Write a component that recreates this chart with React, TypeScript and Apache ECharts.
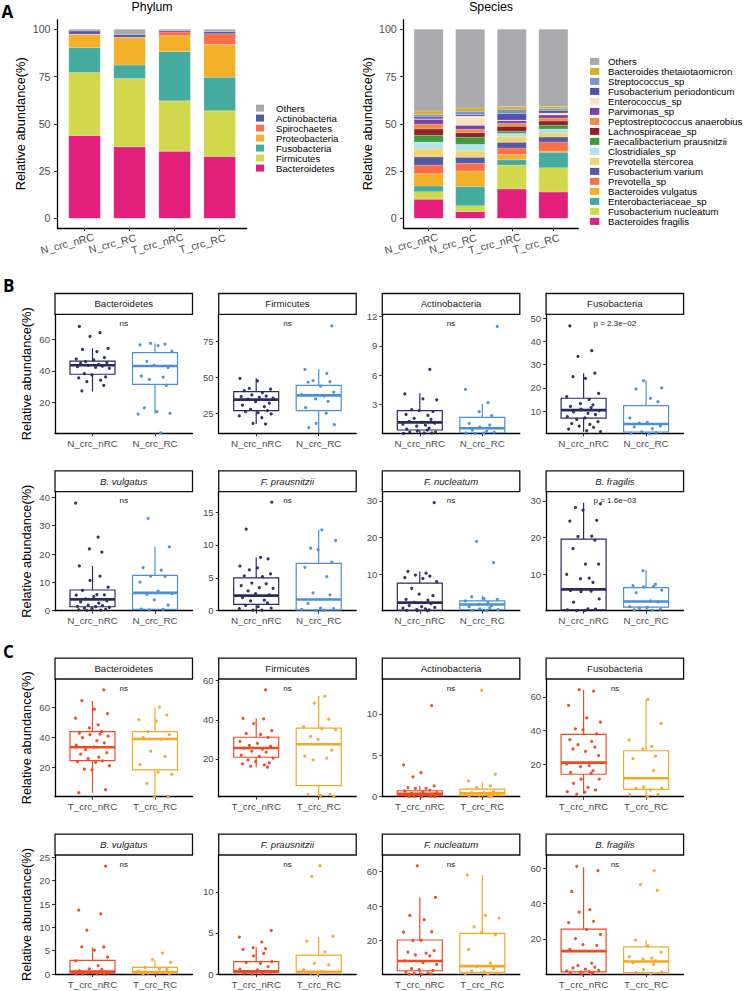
import React, { useEffect, useRef } from "react";
import * as echarts from "echarts";

const FONT = "'Liberation Sans', Arial, Helvetica, sans-serif";

// ---------------- Panel A data ----------------
const SAMPLE_GROUPS = ["N_crc_nRC", "N_crc_RC", "T_crc_nRC", "T_crc_RC"];
const Y_TICKS_A = [0, 25, 50, 75, 100];

// phylum, stacked bottom -> top
const PHYLUM_NAMES = ["Bacteroidetes", "Firmicutes", "Fusobacteria", "Proteobacteria", "Spirochaetes", "Actinobacteria", "Others"];
const PHYLUM_COLORS = ["#e21f7a", "#d1d84c", "#46ab9f", "#f3b02b", "#f7704b", "#5358a7", "#a9a9ae"];
const PHY_BACTEROIDETES = [43.8, 37.8, 35.5, 32.7];
const PHY_FIRMICUTES = [33.4, 36.2, 26.7, 24.2];
const PHY_FUSOBACTERIA = [13.1, 7.1, 26.1, 17.7];
const PHY_PROTEOBACTERIA = [6.9, 14.5, 8.3, 17.3];
const PHY_SPIROCHAETES = [0.3, 0.2, 2.0, 5.8];
const PHY_ACTINOBACTERIA = [1.6, 1.5, 0.7, 1.1];
const PHY_OTHERS = [0.9, 2.7, 0.7, 1.2];
const PHYLUM_VALUES = [PHY_BACTEROIDETES, PHY_FIRMICUTES, PHY_FUSOBACTERIA, PHY_PROTEOBACTERIA, PHY_SPIROCHAETES, PHY_ACTINOBACTERIA, PHY_OTHERS];

// species, stacked bottom -> top
const SPECIES_NAMES = [
  "Bacteroides fragilis", "Fusobacterium nucleatum", "Enterobacteriaceae_sp", "Bacteroides vulgatus",
  "Prevotella_sp", "Fusobacterium varium", "Prevotella stercorea", "Clostridiales_sp",
  "Faecalibacterium prausnitzii", "Lachnospiraceae_sp", "Peptostreptococcus anaerobius", "Parvimonas_sp",
  "Enterococcus_sp", "Fusobacterium periodonticum", "Streptococcus_sp", "Bacteroides thetaiotaomicron", "Others",
];
const SPECIES_COLORS = [
  "#e21f7a", "#d1d84c", "#46ab9f", "#f3b02b", "#f7704b", "#5358a7", "#eed56e", "#b5e1e8",
  "#3b9b3d", "#8c2328", "#ef8d49", "#7e3fa6", "#f7e2c4", "#4f55a6", "#7b95c6", "#d9ad2a", "#a9a9ae",
];
const SP_BFRAGILIS = [10.1, 3.5, 15.5, 13.9];
const SP_FNUCLEATUM = [4.0, 3.2, 12.7, 12.9];
const SP_ENTEROBACT = [3.0, 10.1, 2.8, 8.1];
const SP_BVULGATUS = [6.5, 8.2, 2.7, 0.7];
const SP_PREVOTELLA = [4.6, 4.1, 3.5, 4.8];
const SP_FVARIUM = [4.3, 3.2, 3.0, 2.6];
const SP_PSTERCOREA = [4.2, 3.3, 3.0, 2.1];
const SP_CLOSTRIDIALES = [3.7, 3.6, 1.8, 2.2];
const SP_FPRAUSNITZII = [3.5, 3.7, 1.0, 1.9];
const SP_LACHNO = [3.4, 2.4, 2.7, 2.3];
const SP_PEPTO = [2.6, 1.8, 1.6, 1.6];
const SP_PARVIMONAS = [2.5, 2.1, 1.4, 1.6];
const SP_ENTEROCOCCUS = [0.3, 4.9, 0.3, 1.0];
const SP_FPERIO = [1.1, 0.8, 3.4, 1.4];
const SP_STREP = [1.1, 1.7, 2.3, 0.9];
const SP_BTHETA = [1.9, 1.8, 1.4, 1.1];
const SP_OTHERS = [43.2, 41.6, 40.9, 40.9];
const SPECIES_VALUES = [
  SP_BFRAGILIS, SP_FNUCLEATUM, SP_ENTEROBACT, SP_BVULGATUS, SP_PREVOTELLA, SP_FVARIUM, SP_PSTERCOREA,
  SP_CLOSTRIDIALES, SP_FPRAUSNITZII, SP_LACHNO, SP_PEPTO, SP_PARVIMONAS, SP_ENTEROCOCCUS, SP_FPERIO,
  SP_STREP, SP_BTHETA, SP_OTHERS,
];

// ---------------- Panels B / C data ----------------
const B_GROUPS = ["N_crc_nRC", "N_crc_RC"];
const C_GROUPS = ["T_crc_nRC", "T_crc_RC"];
const B_COLORS = ["#2c2a5e", "#4a8fd8"];
const C_COLORS = ["#ee4a23", "#f4a826"];

// box stats: [lower whisker, Q1, median, Q3, upper whisker] per group
const B_BACT_STATS = [[26.8, 37.8, 43.5, 46.2, 54.3], [12.5, 31.4, 43.1, 51.5, 57.4]];
const B_BACT_NRC = [68.2, 64.2, 61.9, 54.3, 53.6, 52.2, 48.4, 47.5, 46.9, 45.8, 45.2, 44.7, 44.1, 43.5, 43.0, 42.6, 42.2, 41.6, 38.2, 37.4, 36.1, 35.5, 34.0, 33.2, 30.8, 27.3];
const B_BACT_RC = [57.4, 57.0, 56.5, 56.0, 52.5, 46.0, 43.5, 42.0, 36.7, 36.0, 34.5, 30.8, 16.5, 14.0, 13.0, 12.5, 0.5];

const B_FIRM_STATS = [[17.5, 26.8, 34.5, 40.1, 49.4], [8.0, 26.8, 37.5, 44.5, 55.7]];
const B_FIRM_NRC = [49.4, 47.6, 42.4, 41.8, 40.8, 39.4, 37.8, 37.0, 36.6, 36.1, 35.5, 34.8, 33.1, 32.0, 30.6, 29.6, 27.8, 26.8, 26.1, 25.5, 24.5, 23.1, 22.0, 18.0, 17.5];
const B_FIRM_RC = [86.0, 55.7, 52.9, 47.8, 47.0, 46.7, 44.0, 39.7, 38.0, 37.0, 35.0, 33.3, 29.0, 25.0, 18.0, 17.0, 15.0];

const B_ACT_STATS = [[0, 0.41, 1.19, 2.38, 4.16], [0, 0.1, 0.58, 1.7, 3.07]];
const B_ACT_NRC = [6.6, 4.1, 3.6, 3.5, 2.5, 2.4, 2.3, 2.0, 1.9, 1.6, 1.5, 1.3, 1.2, 1.1, 1.0, 0.9, 0.8, 0.6, 0.5, 0.4, 0.3, 0.2, 0.2, 0.1, 0.1, 0.05];
const B_ACT_RC = [11.0, 4.57, 3.2, 2.28, 1.87, 1.09, 0.9, 0.7, 0.6, 0.4, 0.3, 0.2, 0.1, 0.1, 0.05];

const B_FUSO_STATS = [[1.1, 6.9, 10.4, 15.5, 26.3], [0.3, 0.95, 4.4, 12.3, 23.1]];
const B_FUSO_NRC = [46.7, 36.0, 33.6, 26.3, 24.8, 24.1, 17.6, 16.2, 15.0, 13.2, 12.7, 12.0, 11.5, 10.8, 10.2, 9.6, 9.0, 8.5, 7.6, 7.0, 6.4, 5.4, 4.6, 4.2, 3.5, 3.0, 2.2, 1.5, 1.1];
const B_FUSO_RC = [23.1, 20.0, 19.5, 15.5, 14.0, 7.0, 5.1, 4.8, 3.6, 3.2, 2.4, 1.0, 0.7, 0.5, 0.3];

const B_BVUL_STATS = [[0, 1.4, 4.0, 7.3, 15.8], [0.3, 0.5, 6.3, 12.5, 22.6]];
const B_BVUL_NRC = [38.0, 26.0, 21.8, 20.7, 15.8, 12.2, 10.7, 8.3, 7.2, 5.7, 5.6, 5.5, 5.0, 4.2, 3.5, 3.1, 2.7, 2.0, 1.8, 1.5, 1.4, 1.2, 0.9, 0.7, 0.5, 0.3, 0.2, 0.1];
const B_BVUL_RC = [32.6, 22.5, 15.2, 14.3, 12.2, 12.1, 10.1, 6.9, 6.0, 5.8, 3.8, 2.0, 0.6, 0.5, 0.3];

const B_FPRA_STATS = [[0.1, 0.97, 2.3, 5.0, 8.1], [0.05, 0.1, 1.7, 7.2, 12.3]];
const B_FPRA_NRC = [16.5, 12.4, 8.1, 7.9, 6.8, 6.5, 6.2, 5.6, 5.3, 5.2, 4.2, 4.1, 3.8, 3.5, 3.4, 3.0, 2.6, 2.4, 2.0, 1.6, 1.5, 1.2, 0.8, 0.6, 0.4, 0.3, 0.1, 0.1];
const B_FPRA_RC = [12.3, 10.7, 9.5, 9.3, 7.4, 6.6, 5.2, 2.7, 2.4, 1.1, 0.4, 0.3, 0.2, 0.1, 0.05];

const B_FNUC_STATS = [[0, 0.2, 2.3, 7.6, 10.8], [0.05, 0.36, 1.8, 2.8, 4.2]];
const B_FNUC_NRC = [29.5, 10.8, 10.3, 9.8, 9.5, 9.1, 8.9, 8.0, 6.2, 4.6, 4.2, 3.2, 3.0, 2.4, 2.0, 1.5, 1.2, 1.0, 0.8, 0.6, 0.4, 0.3, 0.2, 0.1, 0.1];
const B_FNUC_RC = [19.0, 13.2, 3.9, 3.4, 3.2, 2.8, 2.3, 1.8, 1.5, 1.2, 0.9, 0.6, 0.4, 0.2, 0.1];

const B_BFRA_STATS = [[0.1, 0.36, 5.9, 19.6, 29.5], [0.2, 1.1, 2.6, 6.4, 11.1]];
const B_BFRA_NRC = [29.2, 28.2, 27.5, 24.7, 24.5, 20.4, 20.3, 19.3, 17.0, 12.8, 12.8, 10.0, 9.0, 8.8, 7.8, 5.6, 5.4, 5.3, 3.3, 2.4, 0.6, 0.5, 0.3, 0.2, 0.1];
const B_BFRA_RC = [11.0, 7.3, 6.9, 6.7, 6.6, 5.7, 5.0, 2.8, 2.5, 1.2, 1.0, 0.8, 0.5, 0.3, 0.2];

const C_BACT_STATS = [[3.3, 24.7, 33.6, 44.0, 64.5], [0.7, 18.5, 39.1, 44.0, 60.3]];
const C_BACT_NRC = [71.8, 64.7, 59.0, 56.0, 53.0, 48.5, 46.5, 44.0, 43.0, 42.4, 42.0, 41.0, 40.0, 38.0, 36.6, 35.0, 33.8, 32.0, 30.0, 29.0, 27.0, 26.0, 24.5, 24.0, 23.5, 21.3, 19.0, 18.5, 5.3, 3.3];
const C_BACT_RC = [60.3, 55.0, 52.0, 51.0, 44.0, 42.0, 40.0, 39.0, 31.0, 27.5, 22.0, 17.0, 15.5, 9.5, 0.7, 0.5];

const C_FIRM_STATS = [[15.8, 20.9, 25.6, 31.1, 40.8], [0.8, 6.4, 27.5, 35.7, 52.1]];
const C_FIRM_NRC = [55.2, 40.7, 40.5, 38.0, 34.5, 33.0, 32.5, 31.0, 29.0, 28.0, 27.0, 26.5, 25.5, 25.0, 24.0, 23.5, 22.0, 21.3, 20.5, 19.5, 18.7, 18.0, 17.5, 17.0, 16.3, 15.8];
const C_FIRM_RC = [52.1, 48.5, 40.3, 36.5, 35.5, 35.0, 31.5, 30.0, 24.5, 21.5, 20.5, 19.5, 2.0, 1.8, 1.5, 0.9];

const C_ACT_STATS = [[0, 0.12, 0.36, 0.72, 1.32], [0, 0.12, 0.4, 0.92, 1.8]];
const C_ACT_NRC = [11.0, 3.84, 2.9, 2.4, 1.3, 1.1, 1.0, 1.0, 0.8, 0.7, 0.6, 0.5, 0.4, 0.3, 0.3, 0.2, 0.2, 0.1, 0.1, 0.05, 0.05, 0.02];
const C_ACT_RC = [12.84, 2.7, 1.9, 1.3, 1.1, 0.6, 0.5, 0.5, 0.4, 0.3, 0.2, 0.2, 0.1, 0.1, 0.05];

const C_FUSO_STATS = [[2.1, 13.9, 20.8, 37.7, 64.2], [0.5, 4.9, 11.5, 27.9, 58.6]];
const C_FUSO_NRC = [64.3, 63.5, 55.0, 47.5, 45.0, 41.0, 40.5, 38.0, 34.5, 33.5, 31.5, 30.0, 29.0, 27.5, 25.0, 20.0, 19.0, 18.5, 16.0, 15.0, 14.5, 11.0, 11.0, 8.5, 6.0, 4.5, 3.5, 3.2, 2.1];
const C_FUSO_RC = [58.6, 44.2, 34.2, 30.5, 28.9, 24.7, 23.2, 16.0, 6.2, 5.6, 5.5, 4.6, 1.7, 1.6, 0.5];

const C_BVUL_STATS = [[0, 0.2, 0.5, 2.94, 5.7], [0, 0.2, 0.4, 1.43, 2.9]];
const C_BVUL_NRC = [23.1, 13.7, 12.9, 9.4, 5.8, 5.8, 5.1, 3.6, 2.8, 1.8, 1.1, 1.0, 0.7, 0.5, 0.3, 0.2, 0.1, 0.1, 0.05, 0.05];
const C_BVUL_RC = [4.5, 3.1, 2.5, 1.4, 1.1, 1.0, 0.6, 0.3, 0.2, 0.1, 0.05];

const C_FPRA_STATS = [[0, 0.16, 0.33, 1.5, 3.25], [0, 0.16, 0.28, 2.3, 4.55]];
const C_FPRA_NRC = [5.3, 4.5, 3.9, 3.2, 3.1, 3.0, 2.5, 2.2, 1.5, 1.4, 1.3, 0.9, 0.6, 0.5, 0.3, 0.2, 0.1, 0.1, 0.05];
const C_FPRA_RC = [13.2, 11.9, 4.6, 4.0, 2.7, 1.3, 1.1, 0.5, 0.3, 0.2, 0.1, 0.05];

const C_FNUC_STATS = [[0.2, 2.3, 8.0, 20.2, 45.0], [0.3, 1.4, 5.0, 24.1, 58.1]];
const C_FNUC_NRC = [63.3, 45.0, 34.5, 32.0, 25.0, 24.8, 20.0, 19.8, 14.0, 13.2, 12.5, 11.5, 11.0, 8.0, 7.0, 6.0, 3.5, 3.0, 2.5, 1.5, 1.0, 0.8, 0.5, 0.3, 0.2];
const C_FNUC_RC = [58.0, 34.5, 33.0, 27.9, 24.7, 23.2, 14.7, 6.8, 4.8, 3.5, 2.2, 1.8, 1.0, 0.8, 0.3];

const C_BFRA_STATS = [[0.2, 1.3, 13.1, 25.6, 60.6], [0.5, 0.9, 7.2, 15.5, 19.3]];
const C_BFRA_NRC = [61.2, 58.7, 46.9, 36.6, 35.2, 30.0, 29.3, 25.4, 22.5, 20.2, 16.8, 16.3, 14.1, 6.2, 4.8, 4.0, 3.6, 2.8, 2.2, 1.8, 1.5, 1.2, 0.9, 0.6, 0.3, 0.2];
const C_BFRA_RC = [58.7, 50.8, 47.5, 19.3, 16.0, 12.5, 9.9, 9.1, 8.5, 7.5, 6.4, 5.5, 2.6, 1.3, 0.9, 0.5];

// panel descriptors: row, column, strip title, axis range and ticks
const PANELS = [
  { row: 0, col: 0, title: "Bacteroidetes", italic: false, min: 0.3, max: 75.9, ticks: [20, 40, 60], label: "ns", stats: B_BACT_STATS, pts: [B_BACT_NRC, B_BACT_RC] },
  { row: 0, col: 1, title: "Firmicutes", italic: false, min: 11.0, max: 94.1, ticks: [25, 50, 75], label: "ns", stats: B_FIRM_STATS, pts: [B_FIRM_NRC, B_FIRM_RC] },
  { row: 0, col: 2, title: "Actinobacteria", italic: false, min: 0.07, max: 12.24, ticks: [3, 6, 9, 12], label: "ns", stats: B_ACT_STATS, pts: [B_ACT_NRC, B_ACT_RC] },
  { row: 0, col: 3, title: "Fusobacteria", italic: false, min: 0.4, max: 51.7, ticks: [10, 20, 30, 40, 50], label: "p = 2.3e\u221202", stats: B_FUSO_STATS, pts: [B_FUSO_NRC, B_FUSO_RC] },
  { row: 1, col: 0, title: "B. vulgatus", italic: true, min: 0, max: 42.0, ticks: [0, 10, 20, 30, 40], label: "ns", stats: B_BVUL_STATS, pts: [B_BVUL_NRC, B_BVUL_RC] },
  { row: 1, col: 1, title: "F. prausnitzii", italic: true, min: 0, max: 18.1, ticks: [0, 5, 10, 15], label: "ns", stats: B_FPRA_STATS, pts: [B_FPRA_NRC, B_FPRA_RC] },
  { row: 1, col: 2, title: "F. nucleatum", italic: true, min: 0.1, max: 32.5, ticks: [10, 20, 30], label: "ns", stats: B_FNUC_STATS, pts: [B_FNUC_NRC, B_FNUC_RC] },
  { row: 1, col: 3, title: "B. fragilis", italic: true, min: 0.1, max: 32.5, ticks: [10, 20, 30], label: "p = 1.6e\u221203", stats: B_BFRA_STATS, pts: [B_BFRA_NRC, B_BFRA_RC] },
  { row: 2, col: 0, title: "Bacteroidetes", italic: false, min: 0.67, max: 79.1, ticks: [20, 40, 60], label: "ns", stats: C_BACT_STATS, pts: [C_BACT_NRC, C_BACT_RC] },
  { row: 2, col: 1, title: "Firmicutes", italic: false, min: 0.77, max: 60.8, ticks: [20, 40, 60], label: "ns", stats: C_FIRM_STATS, pts: [C_FIRM_NRC, C_FIRM_RC] },
  { row: 2, col: 2, title: "Actinobacteria", italic: false, min: 0, max: 14.2, ticks: [0, 5, 10], label: "ns", stats: C_ACT_STATS, pts: [C_ACT_NRC, C_ACT_RC] },
  { row: 2, col: 3, title: "Fusobacteria", italic: false, min: 0.5, max: 70.7, ticks: [20, 40, 60], label: "ns", stats: C_FUSO_STATS, pts: [C_FUSO_NRC, C_FUSO_RC] },
  { row: 3, col: 0, title: "B. vulgatus", italic: true, min: 0, max: 25.5, ticks: [0, 5, 10, 15, 20, 25], label: "ns", stats: C_BVUL_STATS, pts: [C_BVUL_NRC, C_BVUL_RC] },
  { row: 3, col: 1, title: "F. prausnitzii", italic: true, min: 0, max: 14.5, ticks: [0, 5, 10], label: "ns", stats: C_FPRA_STATS, pts: [C_FPRA_NRC, C_FPRA_RC] },
  { row: 3, col: 2, title: "F. nucleatum", italic: true, min: 0.4, max: 69.7, ticks: [20, 40, 60], label: "ns", stats: C_FNUC_STATS, pts: [C_FNUC_NRC, C_FNUC_RC] },
  { row: 3, col: 3, title: "B. fragilis", italic: true, min: 0.1, max: 67.6, ticks: [20, 40, 60], label: "ns", stats: C_BFRA_STATS, pts: [C_BFRA_NRC, C_BFRA_RC] },
];

// jitter offsets (visual only, in category units)
const JITTER = [-0.21, 0.12, -0.04, 0.25, -0.16, 0.07, 0.19, -0.26, 0.02, -0.11, 0.23, -0.19, 0.1, -0.07, 0.16, -0.24, 0.05, 0.27, -0.13, -0.01, 0.21, -0.22, 0.13, -0.09, 0.18, -0.17, 0.03, 0.24, -0.27, 0.09, -0.05, 0.15];

// ---------------- layout ----------------
const COL_LEFT = [55, 218.7, 382.3, 546.1];
const PLOT_W = 137.5;
const ROW_TOP = [314.3, 491.7, 679, 855];
const ROW_BOTTOM = [433.3, 610.7, 796.7, 974];
const STRIP_H = 20.8;
const AXIS_LINE = { color: "#000", width: 1.3 };
const TICK_LINE = { color: "#333", width: 1 };
const BAR_X_MIN = -0.6;
const BAR_X_MAX = 3.6;

function barRender(params: any, api: any) {
  const x = api.value(0);
  const b = api.value(1);
  const t = api.value(2);
  const p0 = api.coord([x - 0.35, t]);
  const p1 = api.coord([x + 0.35, b]);
  return {
    type: "rect",
    shape: { x: p0[0], y: p0[1], width: p1[0] - p0[0], height: p1[1] - p0[1] },
    style: { fill: api.visual("color"), stroke: "rgba(255,255,255,0.45)", lineWidth: 0.4 },
  };
}

function makeBoxRender(colors: string[]) {
  return (params: any, api: any) => {
    const x = api.value(0);
    const lo = api.value(1), q1 = api.value(2), med = api.value(3), q3 = api.value(4), hi = api.value(5);
    const c = colors[params.dataIndex];
    const hw = 0.36;
    const tl = api.coord([x - hw, q3]);
    const br = api.coord([x + hw, q1]);
    const mL = api.coord([x - hw, med]);
    const mR = api.coord([x + hw, med]);
    const top = api.coord([x, hi]);
    const bot = api.coord([x, lo]);
    return {
      type: "group",
      children: [
        { type: "line", shape: { x1: top[0], y1: top[1], x2: top[0], y2: tl[1] }, style: { stroke: c, lineWidth: 1.2 } },
        { type: "line", shape: { x1: bot[0], y1: br[1], x2: bot[0], y2: bot[1] }, style: { stroke: c, lineWidth: 1.2 } },
        { type: "rect", shape: { x: tl[0], y: tl[1], width: br[0] - tl[0], height: br[1] - tl[1] }, style: { fill: "rgba(255,255,255,0)", stroke: c, lineWidth: 1.2 } },
        { type: "line", shape: { x1: mL[0], y1: mL[1], x2: mR[0], y2: mR[1] }, style: { stroke: c, lineWidth: 2.6 } },
      ],
    };
  };
}

function buildOption() {
  const grid: any[] = [];
  const xAxis: any[] = [];
  const yAxis: any[] = [];
  const series: any[] = [];
  const graphic: any[] = [];

  const barPanels = [
    { left: 57.5, width: 189.2, names: PHYLUM_NAMES, colors: PHYLUM_COLORS, values: PHYLUM_VALUES, nameGap: 31 },
    { left: 403.7, width: 174.6, names: SPECIES_NAMES, colors: SPECIES_COLORS, values: SPECIES_VALUES, nameGap: 29.8 },
  ];
  const groupTicks = SAMPLE_GROUPS.map((_, i) => i);
  barPanels.forEach((bp, i) => {
    grid.push({ left: bp.left, top: 19.85, width: bp.width, height: 207.9 });
    yAxis.push({
      type: "value", gridIndex: i, min: -5, max: 105,
      splitLine: { show: false },
      axisLine: { show: true, onZero: false, lineStyle: AXIS_LINE },
      axisTick: { show: true, customValues: Y_TICKS_A, length: 3.5, lineStyle: TICK_LINE },
      axisLabel: { customValues: Y_TICKS_A, fontSize: 10.6, color: "#4d4d4d", fontFamily: FONT, margin: 7, showMinLabel: true, showMaxLabel: true },
      name: "Relative abundance(%)", nameLocation: "middle", nameGap: bp.nameGap,
      nameTextStyle: { fontSize: 12.8, color: "#000", fontFamily: FONT },
    });
    const cum = [0, 0, 0, 0];
    bp.names.forEach((name, k) => {
      const data = bp.values[k].map((v, j) => {
        const base = cum[j];
        cum[j] = base + v;
        return [j, base, cum[j]];
      });
      series.push({
        type: "custom", name, xAxisIndex: i, yAxisIndex: i,
        itemStyle: { color: bp.colors[k] },
        encode: { x: 0, y: [1, 2] },
        data, renderItem: barRender, clip: true,
      });
    });
  });

  PANELS.forEach((p, idx) => {
    const gi = 2 + idx;
    const left = COL_LEFT[p.col];
    const top = ROW_TOP[p.row];
    const height = ROW_BOTTOM[p.row] - ROW_TOP[p.row];
    const groups = p.row < 2 ? B_GROUPS : C_GROUPS;
    const colors = p.row < 2 ? B_COLORS : C_COLORS;
    grid.push({ left, top, width: PLOT_W, height });
    yAxis.push({
      type: "value", gridIndex: gi, min: p.min, max: p.max,
      splitLine: { show: false },
      axisLine: { show: true, onZero: false, lineStyle: AXIS_LINE },
      axisTick: { show: true, customValues: p.ticks, length: 3, lineStyle: TICK_LINE },
      axisLabel: { customValues: p.ticks, fontSize: 9.6, color: "#4d4d4d", fontFamily: FONT, margin: 5, showMinLabel: true, showMaxLabel: true },
      name: p.col === 0 ? "Relative abundance(%)" : "",
      nameLocation: "middle", nameGap: 21.9,
      nameTextStyle: { fontSize: 12.8, color: "#000", fontFamily: FONT },
    });
    series.push({
      type: "custom", name: "box_" + idx, xAxisIndex: gi, yAxisIndex: gi,
      data: p.stats.map((s, g) => [g, ...s]),
      encode: { x: 0, y: [1, 2, 3, 4, 5] },
      renderItem: makeBoxRender(colors), clip: true, z: 2,
    });
    p.pts.forEach((arr, g) => {
      series.push({
        type: "scatter", name: "pts_" + idx + "_" + g, xAxisIndex: gi, yAxisIndex: gi,
        symbolSize: 3.2, clip: false, z: 3,
        itemStyle: { color: colors[g], opacity: 0.95 },
        data: arr.map((v, k) => [g + JITTER[(k + idx * 7 + g * 13) % JITTER.length], v]),
      });
    });
    // facet strip
    graphic.push({
      type: "rect", shape: { x: left, y: top - STRIP_H, width: PLOT_W, height: STRIP_H },
      style: { fill: "#fff", stroke: "#111", lineWidth: 1.3 },
    });
    graphic.push({
      type: "text", x: left + PLOT_W / 2, y: top - STRIP_H / 2,
      style: {
        text: p.title, fontSize: 9.6, fontFamily: FONT, fontStyle: p.italic ? "italic" : "normal",
        fill: "#1a1a1a", align: "center", verticalAlign: "middle",
      },
    });
    graphic.push({
      type: "text", x: left + PLOT_W / 2, y: top + 9,
      style: { text: p.label, fontSize: 8, fontFamily: FONT, fill: "#222", align: "center", verticalAlign: "middle" },
    });
  });

  // x axes: indices 0..17 are the main axes (line + ticks); bar panels get an extra label axis each
  barPanels.forEach((bp, i) => {
    xAxis[i] = {
      type: "value", gridIndex: i, min: BAR_X_MIN, max: BAR_X_MAX, position: "bottom",
      splitLine: { show: false },
      axisLine: { show: true, onZero: false, lineStyle: AXIS_LINE },
      axisTick: { show: true, customValues: groupTicks, length: 3.5, lineStyle: TICK_LINE },
      axisLabel: { show: false },
    };
  });
  PANELS.forEach((p, idx) => {
    const groups = p.row < 2 ? B_GROUPS : C_GROUPS;
    xAxis[2 + idx] = {
      type: "value", gridIndex: 2 + idx, min: -0.6, max: 1.6,
      splitLine: { show: false },
      axisLine: { show: true, onZero: false, lineStyle: AXIS_LINE },
      axisTick: { show: true, customValues: [0, 1], length: 3, lineStyle: TICK_LINE },
      axisLabel: {
        customValues: [0, 1],
        formatter: (v: number) => groups[Math.round(v)] ?? "",
        hideOverlap: false, showMinLabel: true, showMaxLabel: true,
        fontSize: 9.8, color: "#4d4d4d", fontFamily: FONT, margin: 5,
      },
    };
  });
  barPanels.forEach((bp, i) => {
    xAxis.push({
      type: "value", gridIndex: i, min: BAR_X_MIN, max: BAR_X_MAX, position: "bottom", offset: 0,
      splitLine: { show: false },
      axisLine: { show: false, onZero: false },
      axisTick: { show: false },
      axisLabel: {
        // empty labels at both ends keep the real labels away from the min/max overlap check
        customValues: [BAR_X_MIN, ...groupTicks, BAR_X_MAX],
        formatter: (v: number) => (Number.isInteger(v) ? SAMPLE_GROUPS[v] ?? "" : ""),
        rotate: 15, align: "center", verticalAlign: "middle", padding: [0, 36, 0, 0], margin: 11,
        hideOverlap: false,
        fontSize: 10.6, color: "#4d4d4d", fontFamily: FONT,
      },
    });
  });

  // titles and panel letters
  graphic.push({ type: "text", x: 152.1, y: 6.8, style: { text: "Phylum", fontSize: 12.3, fontFamily: FONT, fill: "#000", align: "center", verticalAlign: "middle" } });
  graphic.push({ type: "text", x: 491, y: 6.8, style: { text: "Species", fontSize: 12.3, fontFamily: FONT, fill: "#000", align: "center", verticalAlign: "middle" } });
  const letters: [string, number, number][] = [["A", 1.5, 11], ["B", 3, 285], ["C", 3, 651.7]];
  letters.forEach(([t, x, y]) => {
    graphic.push({ type: "text", x, y, style: { text: t, fontSize: 17, fontWeight: "bold", fontFamily: "'Open Sans', 'Liberation Sans', sans-serif", fill: "#000", align: "left", verticalAlign: "middle" } });
  });

  const legendText = (pad: number) => ({ fontSize: 9.6, lineHeight: 9.27, color: "#000", fontFamily: FONT, padding: [0, 0, 0, pad] });

  return {
    animation: false,
    backgroundColor: "#fff",
    grid, xAxis, yAxis, series, graphic,
    legend: [
      {
        orient: "vertical", left: 256, top: 103.1, padding: 0, itemWidth: 8, itemHeight: 7, itemGap: 0,
        icon: "rect", selectedMode: false, data: [...PHYLUM_NAMES].reverse(), textStyle: legendText(7),
      },
      {
        orient: "vertical", left: 590, top: 56.4, padding: 0, itemWidth: 9.3, itemHeight: 7, itemGap: 0,
        icon: "rect", selectedMode: false, data: [...SPECIES_NAMES].reverse(), textStyle: legendText(3.7),
      },
    ],
  };
}

export default function App() {
  const ref = useRef<HTMLDivElement>(null);
  useEffect(() => {
    if (!ref.current) return;
    const chart = echarts.init(ref.current, undefined, { renderer: "svg" });
    chart.setOption(buildOption() as any);
    return () => chart.dispose();
  }, []);
  return <div ref={ref} style={{ position: "absolute", left: 0, top: 0, width: 746, height: 991 }} />;
}
